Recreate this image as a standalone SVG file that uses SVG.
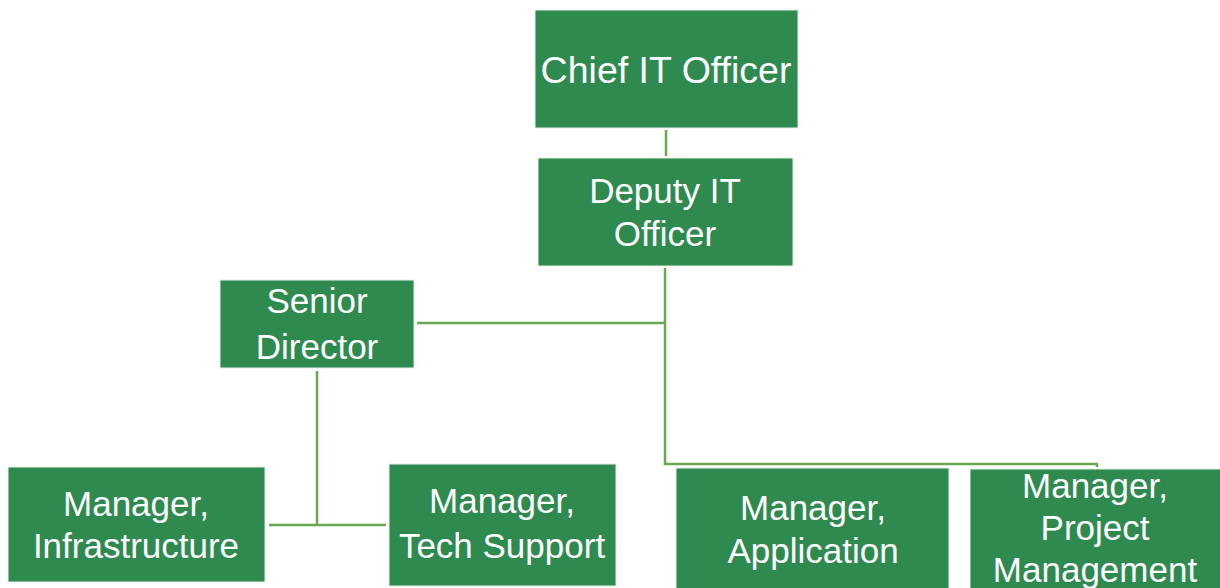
<svg xmlns="http://www.w3.org/2000/svg" width="1220" height="588" viewBox="0 0 1220 588">
<style>
.box{fill:#2e8a4f;stroke:#e6efe8;stroke-width:1}
.t{font-family:"Liberation Sans",Arial,sans-serif;font-size:35px;fill:#ffffff;text-anchor:middle}
.c{fill:none;stroke:#6aa84f;stroke-width:2.5}
</style>
<rect width="1220" height="588" fill="#ffffff"/>
<g id="connectors">
<path class="c" d="M666,130 V156"/>
<path class="c" d="M665,268 V464 H1097 V467"/>
<path class="c" d="M417,323 H665"/>
<path class="c" d="M317,371 V525"/>
<path class="c" d="M269,525 H386"/>
</g>
<g id="chief"><rect class="box" x="535" y="10" width="263" height="118"/><text class="t" x="666" y="83" style="font-size:37.5px">Chief IT Officer</text></g>
<g id="deputy"><rect class="box" x="538" y="158" width="255" height="108"/><text class="t" x="665" y="203">Deputy IT</text><text class="t" x="665" y="246">Officer</text></g>
<g id="senior"><rect class="box" x="220" y="280" width="194" height="88"/><text class="t" x="317" y="313">Senior</text><text class="t" x="317" y="359">Director</text></g>
<g id="infra"><rect class="box" x="8" y="467" width="257" height="115"/><text class="t" x="136" y="516">Manager,</text><text class="t" x="136" y="558">Infrastructure</text></g>
<g id="tech"><rect class="box" x="389" y="464" width="227" height="122"/><text class="t" x="502" y="513">Manager,</text><text class="t" x="502" y="558">Tech Support</text></g>
<g id="app"><rect class="box" x="676" y="468" width="273" height="125"/><text class="t" x="813" y="520">Manager,</text><text class="t" x="813" y="563">Application</text></g>
<g id="pm"><rect class="box" x="970" y="469" width="255" height="125"/><text class="t" x="1095" y="498">Manager,</text><text class="t" x="1095" y="540">Project</text><text class="t" x="1095" y="582">Management</text></g>
</svg>
